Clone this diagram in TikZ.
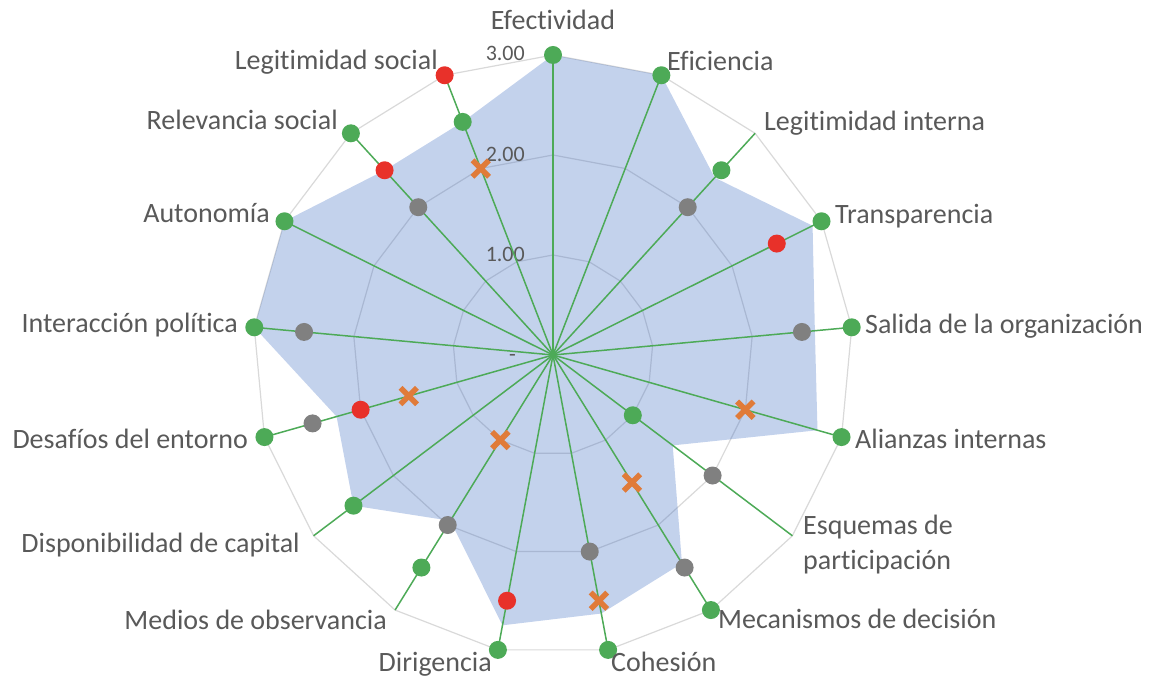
\documentclass[tikz,border=0pt]{standalone}
\usepackage{fontspec}
\setmainfont{Carlito}[Ligatures=NoCommon]
\usetikzlibrary{shapes.misc}

\definecolor{mgreen}{HTML}{4DAA57}
\definecolor{mred}{HTML}{E8312A}
\definecolor{mgray}{HTML}{808080}
\definecolor{morange}{HTML}{E07B39}
\definecolor{mblue}{HTML}{4472C4}
\definecolor{gridgray}{HTML}{D9D9D9}
\definecolor{labgray}{HTML}{595959}

\tikzset{
  gdot/.style={circle, fill=mgreen, inner sep=0pt, minimum size=18pt},
  rdot/.style={circle, fill=mred, inner sep=0pt, minimum size=18pt},
  kdot/.style={circle, fill=mgray, inner sep=0pt, minimum size=18pt},
  xmark/.style={cross out, draw=morange, line width=5.5pt, inner sep=0pt, minimum size=11pt},
  spoke/.style={draw=mgreen, line width=1.5pt},
  ring/.style={draw=gridgray, line width=1.2pt},
  lab/.style={text=labgray, font=\fontsize{28}{35}\selectfont, inner sep=0pt},
  ticklab/.style={text=labgray, font=\fontsize{22}{26}\selectfont, inner sep=0pt, anchor=base east}
}

\begin{document}
\begin{tikzpicture}[x=1pt, y=1pt]
    \useasboundingbox (-553,-324) rectangle (602,355);
    \coordinate (c) at (0,0);
    \foreach \i in {0,...,16}
        \coordinate (e\i) at ({90-\i*360/17}:300);

    \foreach \r in {100,200,300}
        \draw[ring] (90:\r) \foreach \i in {1,...,16} { -- ({90-\i*360/17}:\r) } -- cycle;

    \fill[mblue, fill opacity=0.32] (90:300)
        \foreach \v [count=\i from 0] in {3,3,2.4,2.9,2.63,2.75,1.5,2.45,2.63,2.75,1.95,2.5,2.25,3,3,2.5,2.5}
        { -- ({90-\i*360/17}:{\v*100}) } -- cycle;

    \node[ticklab] (t3) at (-28,294) {3.00};
    \node[ticklab] (t2) at (-28,193) {2.00};
    \node[ticklab] (t1) at (-28,93) {1.00};
    \node[ticklab] (t0) at (-37,-7) {-};

    \foreach \i in {0,...,16}
        \draw[spoke] (c) -- (e\i);

    \foreach \v [count=\i from 0] in {3,3,2.5,3,3,3,1,3,3,3,2.5,2.5,3,3,3,3,2.5}
        \node[gdot] (g\i) at ({90-\i*360/17}:{\v*100}) {};
    \foreach \i/\v in {3/2.5, 9/2.5, 12/2, 15/2.5, 16/3}
        \node[rdot] (r\i) at ({90-\i*360/17}:{\v*100}) {};
    \foreach \i/\v in {2/2, 4/2.5, 6/2, 7/2.5, 8/2, 10/2, 12/2.5, 13/2.5, 15/2}
        \node[kdot] (k\i) at ({90-\i*360/17}:{\v*100}) {};
    \foreach \i/\v in {5/2, 7/1.5, 8/2.5, 10/1, 12/1.5, 16/2}
        \node[xmark] (x\i) at ({90-\i*360/17}:{\v*100}) {};

    \node[lab, anchor=base] (l0) at (0,325) {Efectividad};
    \node[lab, anchor=base west] (l1) at (114,284) {Eficiencia};
    \node[lab, anchor=base west] (l2) at (211,224) {Legitimidad interna};
    \node[lab, anchor=base west] (l3) at (282,131) {Transparencia};
    \node[lab, anchor=base west] (l4) at (312,21) {Salida de la organización};
    \node[lab, anchor=base west] (l5) at (302,-93) {Alianzas internas};
    \node[lab, anchor=base west, align=left] (l6) at (250,-214) {Esquemas de\\participación};
    \node[lab, anchor=base west] (l7) at (165,-273) {Mecanismos de decisión};
    \node[lab, anchor=base west] (l8) at (58,-316) {Cohesión};
    \node[lab, anchor=base east] (l9) at (-61,-316) {Dirigencia};
    \node[lab, anchor=base east] (l10) at (-166,-274) {Medios de observancia};
    \node[lab, anchor=base east] (l11) at (-253,-197) {Disponibilidad de capital};
    \node[lab, anchor=base east] (l12) at (-305,-93) {Desafíos del entorno};
    \node[lab, anchor=base east] (l13) at (-315,22) {Interacción política};
    \node[lab, anchor=base east] (l14) at (-283,132) {Autonomía};
    \node[lab, anchor=base east] (l15) at (-215,225) {Relevancia social};
    \node[lab, anchor=base east] (l16) at (-115,285) {Legitimidad social};
\end{tikzpicture}
\end{document}
